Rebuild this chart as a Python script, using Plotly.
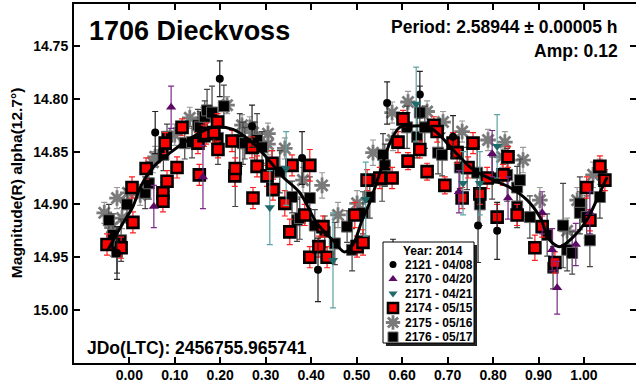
import plotly.graph_objects as go

# Phase, reduced magnitude and 1-sigma error for each observing session
s2121 = [
    (-0.027, 14.946, 0.025), (0.057, 14.832, 0.020), (0.199, 14.781, 0.017),
    (0.270, 14.826, 0.020), (0.380, 14.856, 0.025), (0.415, 14.962, 0.030),
    (0.567, 14.804, 0.020), (0.580, 14.955, 0.022), (0.639, 14.796, 0.022),
    (0.712, 14.836, 0.020), (0.767, 14.920, 0.035), (0.809, 14.925, 0.027),
]

s2170 = [
    (0.054, 14.902, 0.020), (0.092, 14.808, 0.020), (0.162, 14.874, 0.030),
    (0.725, 14.888, 0.020), (0.798, 14.852, 0.022), (0.833, 14.894, 0.020),
    (0.908, 14.908, 0.020), (0.930, 14.943, 0.020), (0.941, 14.979, 0.025),
    (0.982, 14.938, 0.020), (1.013, 14.908, 0.020),
]

s2171 = [
    (0.309, 14.903, 0.035), (0.345, 14.866, 0.035), (0.448, 14.953, 0.045),
    (0.520, 14.895, 0.035), (0.631, 14.805, 0.035), (0.734, 14.880, 0.030),
    (0.771, 14.880, 0.030), (0.809, 14.845, 0.030),
]

s2174 = [
    (-0.049, 14.938, 0.010), (-0.018, 14.941, 0.010), (0.006, 14.884, 0.010),
    (0.008, 14.917, 0.010), (0.037, 14.866, 0.010), (0.074, 14.889, 0.010),
    (0.074, 14.897, 0.010), (0.079, 14.842, 0.010), (0.083, 14.878, 0.010),
    (0.105, 14.865, 0.010), (0.116, 14.827, 0.008), (0.151, 14.842, 0.010),
    (0.154, 14.872, 0.010), (0.164, 14.835, 0.010), (0.169, 14.833, 0.010),
    (0.186, 14.832, 0.010), (0.194, 14.822, 0.008), (0.195, 14.848, 0.008),
    (0.226, 14.840, 0.010), (0.232, 14.873, 0.010), (0.233, 14.866, 0.010),
    (0.270, 14.846, 0.010), (0.272, 14.894, 0.010), (0.281, 14.864, 0.010),
    (0.303, 14.873, 0.010), (0.314, 14.861, 0.012), (0.316, 14.886, 0.010),
    (0.342, 14.899, 0.012), (0.353, 14.926, 0.012), (0.358, 14.863, 0.010),
    (0.386, 14.910, 0.010), (0.397, 14.863, 0.015), (0.397, 14.950, 0.010),
    (0.417, 14.940, 0.010), (0.426, 14.921, 0.010), (0.435, 14.950, 0.010),
    (0.496, 14.910, 0.012), (0.501, 14.940, 0.010), (0.514, 14.936, 0.012),
    (0.523, 14.877, 0.010), (0.551, 14.875, 0.010), (0.578, 14.875, 0.010),
    (0.591, 14.841, 0.010), (0.602, 14.819, 0.008), (0.613, 14.859, 0.008),
    (0.639, 14.848, 0.008), (0.655, 14.869, 0.008), (0.670, 14.825, 0.008),
    (0.677, 14.831, 0.010), (0.694, 14.882, 0.008), (0.712, 14.842, 0.010),
    (0.721, 14.851, 0.010), (0.732, 14.894, 0.010), (0.745, 14.865, 0.010),
    (0.756, 14.842, 0.010), (0.771, 14.890, 0.010), (0.787, 14.875, 0.010),
    (0.809, 14.912, 0.012), (0.822, 14.872, 0.010), (0.833, 14.855, 0.010),
    (0.853, 14.910, 0.010), (0.892, 14.941, 0.012), (0.908, 14.921, 0.010),
    (0.936, 14.955, 0.010), (1.006, 14.884, 0.010), (1.013, 14.915, 0.010),
    (1.035, 14.864, 0.010), (1.046, 14.877, 0.010),
]

s2175 = [
    (-0.055, 14.908, 0.010), (-0.038, 14.922, 0.010), (-0.027, 14.894, 0.010),
    (-0.016, 14.913, 0.010), (-0.003, 14.889, 0.010), (0.024, 14.891, 0.010),
    (0.052, 14.860, 0.010), (0.057, 14.855, 0.010), (0.100, 14.834, 0.010),
    (0.133, 14.818, 0.010), (0.156, 14.825, 0.010), (0.162, 14.818, 0.010),
    (0.215, 14.806, 0.008), (0.248, 14.825, 0.010), (0.265, 14.827, 0.010),
    (0.272, 14.832, 0.010), (0.305, 14.833, 0.010), (0.305, 14.843, 0.010),
    (0.342, 14.847, 0.010), (0.382, 14.877, 0.012), (0.424, 14.882, 0.012),
    (0.459, 14.910, 0.012), (0.501, 14.899, 0.012), (0.536, 14.851, 0.012),
    (0.578, 14.813, 0.010), (0.580, 14.839, 0.010), (0.613, 14.803, 0.010),
    (0.655, 14.812, 0.010), (0.690, 14.822, 0.010), (0.732, 14.831, 0.010),
    (0.789, 14.839, 0.010), (0.820, 14.855, 0.010), (0.826, 14.841, 0.010),
    (0.866, 14.858, 0.012), (0.903, 14.896, 0.012), (0.963, 14.925, 0.012),
    (0.985, 14.896, 0.012), (1.020, 14.872, 0.012), (1.035, 14.869, 0.012),
]

s2176 = [
    (-0.045, 14.915, 0.015), (-0.036, 14.929, 0.020), (-0.027, 14.945, 0.020),
    (-0.018, 14.934, 0.020), (-0.005, 14.900, 0.015), (0.035, 14.889, 0.015),
    (0.043, 14.880, 0.015), (0.075, 14.853, 0.015), (0.083, 14.836, 0.012),
    (0.122, 14.842, 0.015), (0.138, 14.841, 0.015), (0.151, 14.825, 0.015),
    (0.155, 14.827, 0.015), (0.166, 14.817, 0.015), (0.171, 14.811, 0.020),
    (0.182, 14.813, 0.025), (0.195, 14.837, 0.025), (0.208, 14.807, 0.020),
    (0.233, 14.872, 0.030), (0.243, 14.839, 0.025), (0.250, 14.842, 0.020),
    (0.254, 14.842, 0.015), (0.276, 14.842, 0.020), (0.281, 14.839, 0.025),
    (0.292, 14.846, 0.015), (0.314, 14.869, 0.020), (0.331, 14.869, 0.020),
    (0.358, 14.893, 0.015), (0.369, 14.915, 0.020), (0.375, 14.913, 0.020),
    (0.397, 14.894, 0.020), (0.408, 14.920, 0.015), (0.430, 14.926, 0.015),
    (0.452, 14.937, 0.020), (0.479, 14.921, 0.015), (0.490, 14.943, 0.020),
    (0.514, 14.908, 0.020), (0.529, 14.893, 0.020), (0.556, 14.877, 0.020),
    (0.558, 14.853, 0.020), (0.562, 14.863, 0.020), (0.611, 14.827, 0.020),
    (0.633, 14.836, 0.020), (0.639, 14.813, 0.025), (0.650, 14.827, 0.020),
    (0.679, 14.851, 0.020), (0.688, 14.853, 0.020), (0.727, 14.865, 0.020),
    (0.743, 14.866, 0.020), (0.765, 14.870, 0.025), (0.771, 14.900, 0.020),
    (0.798, 14.875, 0.020), (0.831, 14.872, 0.025), (0.853, 14.884, 0.020),
    (0.853, 14.902, 0.020), (0.859, 14.877, 0.020), (0.881, 14.912, 0.020),
    (0.919, 14.929, 0.020), (0.932, 14.960, 0.020), (0.954, 14.920, 0.040),
    (0.963, 14.943, 0.020), (0.974, 14.946, 0.020), (0.991, 14.899, 0.025),
    (0.991, 14.908, 0.020), (1.006, 14.912, 0.020), (1.013, 14.934, 0.025),
    (1.035, 14.893, 0.020),
]

# Fourier fit of the lightcurve
fit_phase = [-0.047, -0.020, 0.008, 0.024, 0.052, 0.090, 0.140, 0.184, 0.228,
             0.272, 0.303, 0.338, 0.375, 0.413, 0.448, 0.474, 0.492, 0.512,
             0.529, 0.551, 0.573, 0.595, 0.617, 0.655, 0.677, 0.705, 0.727,
             0.756, 0.800, 0.837, 0.875, 0.903, 0.925, 0.947, 0.976, 1.006,
             1.035, 1.051]
fit_mag = [14.943, 14.922, 14.902, 14.884, 14.865, 14.851, 14.836, 14.827,
           14.829, 14.842, 14.856, 14.874, 14.889, 14.918, 14.934, 14.945,
           14.938, 14.915, 14.898, 14.870, 14.842, 14.827, 14.826, 14.826,
           14.832, 14.845, 14.855, 14.867, 14.877, 14.884, 14.896, 14.912,
           14.934, 14.940, 14.931, 14.915, 14.889, 14.874]

legend_labels = ["2121 - 04/08", "2170 - 04/20", "2171 - 04/21",
                 "2174 - 05/15", "2175 - 05/16", "2176 - 05/17"]

x_ticks = [0.0, 0.1, 0.2, 0.3, 0.4, 0.5, 0.6, 0.7, 0.8, 0.9, 1.0]
y_ticks = [14.75, 14.80, 14.85, 14.90, 14.95, 15.00]

FONT = "Liberation Sans, Arial, sans-serif"

styles = {
    "2175": dict(symbol="asterisk-open", size=13, color="#7a7a7a",
                 line=dict(color="#7a7a7a", width=2.8), err="#9a9a9a"),
    "2176": dict(symbol="square", size=11, color="#000000",
                 line=dict(color="#666666", width=1), err="#444444"),
    "2174": dict(symbol="square", size=11, color="#ff0000",
                 line=dict(color="#000000", width=2.6), err="#ff2020"),
    "2121": dict(symbol="circle", size=8, color="#000000",
                 line=dict(color="#000000", width=0), err="#222222"),
    "2170": dict(symbol="triangle-up", size=9, color="#5c0a66",
                 line=dict(color="#5c0a66", width=0), err="#7a2a88"),
    "2171": dict(symbol="triangle-down", size=9, color="#1f6b6b",
                 line=dict(color="#1f6b6b", width=0), err="#5ea3a3"),
}

series = [("2175", s2175), ("2176", s2176), ("2174", s2174),
          ("2121", s2121), ("2170", s2170), ("2171", s2171)]

fig = go.Figure()

for key, rows in series:
    st = styles[key]
    ph = [r[0] for r in rows]
    mg = [r[1] for r in rows]
    er = [r[2] for r in rows]
    fig.add_trace(go.Scatter(
        x=ph, y=mg, mode="markers", showlegend=False,
        marker=dict(symbol=st["symbol"], size=st["size"], color=st["color"],
                    line=st["line"]),
        error_y=dict(type="data", array=er, color=st["err"], thickness=1.2,
                     width=3),
    ))

fig.add_trace(go.Scatter(x=fit_phase, y=fit_mag, mode="lines",
                         line=dict(color="black", width=3, shape="spline"),
                         showlegend=False))

# Legend panel drawn in pixel space on an overlay axis pair
box_l, box_r, box_t, box_b = 383, 474, 242, 343
shadow = 3
fig.add_trace(go.Scatter(
    x=[box_l + shadow, box_r + shadow, box_r + shadow, box_l + shadow, box_l + shadow],
    y=[box_t + shadow, box_t + shadow, box_b + shadow, box_b + shadow, box_t + shadow],
    mode="lines", fill="toself", fillcolor="#222222",
    line=dict(color="#222222", width=0), xaxis="x2", yaxis="y2",
    showlegend=False, hoverinfo="skip"))
fig.add_trace(go.Scatter(
    x=[box_l, box_r, box_r, box_l, box_l],
    y=[box_t, box_t, box_b, box_b, box_t],
    mode="lines", fill="toself", fillcolor="white",
    line=dict(color="black", width=1), xaxis="x2", yaxis="y2",
    showlegend=False, hoverinfo="skip"))

item_y = [264.5, 279, 293.5, 308, 322.5, 337]
legend_keys = ["2121", "2170", "2171", "2174", "2175", "2176"]
for key, yy in zip(legend_keys, item_y):
    st = styles[key]
    fig.add_trace(go.Scatter(
        x=[393], y=[yy], mode="markers", xaxis="x2", yaxis="y2",
        marker=dict(symbol=st["symbol"], size=st["size"] - 1, color=st["color"],
                    line=st["line"]),
        showlegend=False, hoverinfo="skip"))

annotations = []
for label, yy in zip(legend_labels, item_y):
    annotations.append(dict(x=403, y=yy, xref="x2", yref="y2", text=label,
                            showarrow=False, xanchor="left", yanchor="middle",
                            font=dict(family=FONT, size=12, color="black",
                                      weight="bold")))
annotations.append(dict(x=433, y=251, xref="x2", yref="y2", text="Year: 2014",
                        showarrow=False, xanchor="center", yanchor="middle",
                        font=dict(family=FONT, size=12, color="black",
                                  weight="bold")))

# Headline texts
annotations += [
    dict(x=87, y=31, xref="x2", yref="y2", text="1706 Dieckvoss",
         showarrow=False, xanchor="left", yanchor="middle",
         font=dict(family=FONT, size=27, color="black", weight="bold")),
    dict(x=620, y=27, xref="x2", yref="y2",
         text="Period: 2.58944 \u00b1 0.00005 h", showarrow=False,
         xanchor="right", yanchor="middle",
         font=dict(family=FONT, size=17.5, color="black", weight="bold")),
    dict(x=620, y=51, xref="x2", yref="y2", text="Amp: 0.12",
         showarrow=False, xanchor="right", yanchor="middle",
         font=dict(family=FONT, size=17.5, color="black", weight="bold")),
    dict(x=85, y=348, xref="x2", yref="y2", text="JDo(LTC): 2456755.965741",
         showarrow=False, xanchor="left", yanchor="middle",
         font=dict(family=FONT, size=17.5, color="black", weight="bold")),
    dict(x=-0.1032, y=0.501, xref="paper", yref="paper",
         text="Magnitude(R) alpha(12.7\u00b0)", textangle=-90,
         showarrow=False, xanchor="center", yanchor="middle",
         font=dict(family=FONT, size=15.5, color="black", weight="bold")),
]

tickfont = dict(family=FONT, size=14, color="black", weight="bold")

fig.update_layout(
    width=636, height=387,
    margin=dict(l=74, r=0, t=4, b=24, pad=0),
    paper_bgcolor="white", plot_bgcolor="white",
    showlegend=False,
    annotations=annotations,
    xaxis=dict(range=[-0.1216, 1.1144], tickvals=x_ticks, tickformat=".2f",
               ticks="inside", ticklen=6, tickwidth=1.5, tickcolor="black",
               showline=True, linecolor="black", linewidth=2, mirror="ticks",
               showgrid=False, zeroline=False, tickfont=tickfont,
               automargin=False, ticklabelstandoff=-2),
    yaxis=dict(range=[15.0502, 14.7102], tickvals=y_ticks, tickformat=".2f",
               ticks="inside", ticklen=6, tickwidth=1.5, tickcolor="black",
               showline=True, linecolor="black", linewidth=2, mirror="ticks",
               showgrid=False, zeroline=False, tickfont=tickfont,
               automargin=False, ticklabelstandoff=1),
    xaxis2=dict(overlaying="x", range=[74, 636], visible=False,
                anchor="y2"),
    yaxis2=dict(overlaying="y", range=[363, 4], visible=False,
                anchor="x2"),
)

fig.write_html("out.html")
